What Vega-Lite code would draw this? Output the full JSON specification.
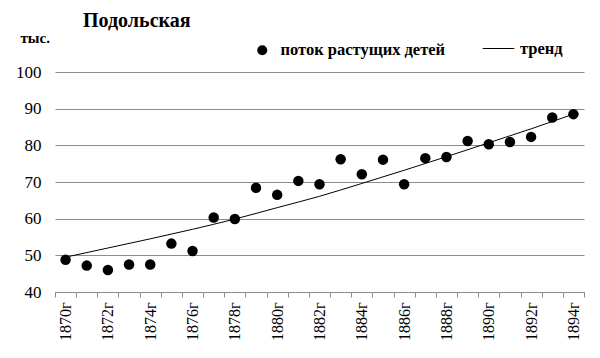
{
  "$schema": "https://vega.github.io/schema/vega-lite/v6.json",
  "autosize": {"type": "none"},
  "padding": {"left": 55, "top": 72, "right": 16, "bottom": 66},
  "width": 529,
  "height": 220,
  "background": "white",
  "title": {
    "text": "Подольская",
    "anchor": "start",
    "frame": "group",
    "dx": 28,
    "offset": -1,
    "font": "Times New Roman, Liberation Serif, serif",
    "fontSize": 20,
    "fontWeight": "bold",
    "color": "black"
  },
  "config": {
    "view": {"stroke": null},
    "font": "Times New Roman, Liberation Serif, serif"
  },
  "datasets": {
    "points": [
      {"year": 1870, "value": 48.8},
      {"year": 1871, "value": 47.2},
      {"year": 1872, "value": 46.0},
      {"year": 1873, "value": 47.5},
      {"year": 1874, "value": 47.5},
      {"year": 1875, "value": 53.2},
      {"year": 1876, "value": 51.2},
      {"year": 1877, "value": 60.3},
      {"year": 1878, "value": 59.9},
      {"year": 1879, "value": 68.4},
      {"year": 1880, "value": 66.5},
      {"year": 1881, "value": 70.3},
      {"year": 1882, "value": 69.4},
      {"year": 1883, "value": 76.2},
      {"year": 1884, "value": 72.1},
      {"year": 1885, "value": 76.1},
      {"year": 1886, "value": 69.4},
      {"year": 1887, "value": 76.5},
      {"year": 1888, "value": 76.8},
      {"year": 1889, "value": 81.2},
      {"year": 1890, "value": 80.3},
      {"year": 1891, "value": 80.9},
      {"year": 1892, "value": 82.3},
      {"year": 1893, "value": 87.6},
      {"year": 1894, "value": 88.5}
    ],
    "trend": [
      {"year": 1870, "value": 49.5},
      {"year": 1872, "value": 52.0},
      {"year": 1874, "value": 54.5},
      {"year": 1876, "value": 57.1},
      {"year": 1878, "value": 59.9},
      {"year": 1880, "value": 63.0},
      {"year": 1882, "value": 66.1},
      {"year": 1884, "value": 69.6},
      {"year": 1886, "value": 73.2},
      {"year": 1888, "value": 76.9},
      {"year": 1890, "value": 80.7},
      {"year": 1892, "value": 84.5},
      {"year": 1894, "value": 88.5}
    ]
  },
  "encoding": {
    "x": {
      "field": "year",
      "type": "quantitative",
      "scale": {"domain": [1869.5, 1894.5], "nice": false, "zero": false},
      "axis": {
        "title": null,
        "orient": "bottom",
        "grid": false,
        "domainColor": "#8c8c8c",
        "tickColor": "#8c8c8c",
        "tickSize": 5,
        "values": [1869.5, 1870, 1870.5, 1871.5, 1872, 1872.5, 1873.5, 1874, 1874.5, 1875.5, 1876, 1876.5, 1877.5, 1878, 1878.5, 1879.5, 1880, 1880.5, 1881.5, 1882, 1882.5, 1883.5, 1884, 1884.5, 1885.5, 1886, 1886.5, 1887.5, 1888, 1888.5, 1889.5, 1890, 1890.5, 1891.5, 1892, 1892.5, 1893.5, 1894, 1894.5],
        "tickOpacity": {"condition": {"test": "datum.value % 1 != 0", "value": 1}, "value": 0},
        "labelExpr": "datum.value % 1 == 0 ? datum.value + 'г' : ''",
        "labelOverlap": false,
        "labelAngle": -90,
        "labelAlign": "right",
        "labelBaseline": "middle",
        "labelPadding": 5,
        "labelFont": "Times New Roman, Liberation Serif, serif",
        "labelFontSize": 16,
        "labelColor": "black",
        "labelFlush": false,
        "labelBound": false
      }
    },
    "y": {
      "field": "value",
      "type": "quantitative",
      "scale": {"domain": [40, 100], "nice": false, "zero": false},
      "axis": {
        "title": "тыс.",
        "titleAngle": 0,
        "titleX": -35,
        "titleY": -30,
        "titleAlign": "left",
        "titleBaseline": "alphabetic",
        "titleFont": "Times New Roman, Liberation Serif, serif",
        "titleFontSize": 15,
        "titleFontWeight": "bold",
        "titleColor": "black",
        "values": [40, 50, 60, 70, 80, 90, 100],
        "grid": true,
        "gridColor": "#8c8c8c",
        "gridWidth": 1,
        "domain": false,
        "ticks": false,
        "labelPadding": 14,
        "labelFont": "Times New Roman, Liberation Serif, serif",
        "labelFontSize": 17,
        "labelColor": "black"
      }
    }
  },
  "layer": [
    {
      "data": {"name": "trend"},
      "mark": {"type": "line", "color": "black", "strokeWidth": 1, "interpolate": "monotone"},
      "encoding": {
        "color": {
          "datum": "тренд",
          "scale": {"range": ["black"]},
          "legend": {
            "title": null,
            "orient": "none",
            "legendX": 427,
            "legendY": -40,
            "symbolType": "stroke",
            "symbolSize": 1000,
            "symbolStrokeWidth": 1,
            "symbolStrokeColor": "black",
            "labelOffset": 5,
            "labelLimit": 300,
            "labelFont": "Times New Roman, Liberation Serif, serif",
            "labelFontSize": 16.5,
            "labelFontWeight": "bold",
            "labelColor": "black"
          }
        }
      }
    },
    {
      "data": {"name": "points"},
      "mark": {"type": "point", "filled": true, "color": "black", "size": 110, "opacity": 1},
      "encoding": {
        "shape": {
          "datum": "поток растущих детей",
          "scale": {"range": ["circle"]},
          "legend": {
            "title": null,
            "orient": "none",
            "legendX": 199,
            "legendY": -30,
            "symbolSize": 100,
            "symbolFillColor": "black",
            "symbolStrokeColor": "black",
            "symbolOpacity": 1,
            "labelOffset": 10,
            "labelLimit": 300,
            "labelFont": "Times New Roman, Liberation Serif, serif",
            "labelFontSize": 16.5,
            "labelFontWeight": "bold",
            "labelColor": "black"
          }
        }
      }
    }
  ]
}
